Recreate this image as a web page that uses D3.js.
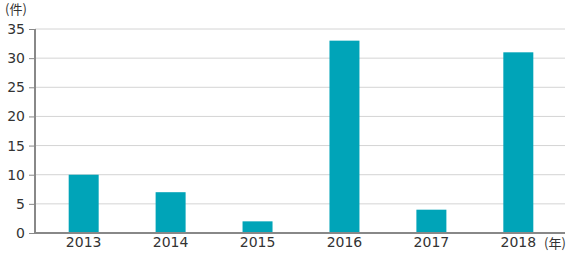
<!DOCTYPE html>
<html>
<head>
<meta charset="utf-8">
<script src="https://cdn.jsdelivr.net/npm/d3@7"></script>
<style>
  body { margin: 0; background: #fff; }
  text { font-family: "Noto Sans CJK JP", "DejaVu Sans", sans-serif; fill: #333; }
</style>
</head>
<body>
<script>
const years = ['2013', '2014', '2015', '2016', '2017', '2018'];
const counts = [10, 7, 2, 33, 4, 31];
const yTicks = [0, 5, 10, 15, 20, 25, 30, 35];

const width = 569, height = 256;
const plotLeft = 35, plotRight = 565, plotTop = 29, plotBottom = 233;

let svg = d3.select('body').append('svg')
  .attr('width', width)
  .attr('height', height);

let x = d3.scaleBand()
  .domain(years)
  .range([40, 562])
  .paddingInner(0.655)
  .paddingOuter(0.33);

let y = d3.scaleLinear()
  .domain([0, 35])
  .range([plotBottom, plotTop]);

// gridlines
svg.append('g')
  .selectAll('line')
  .data(yTicks.filter(d => d > 0))
  .join('line')
  .attr('x1', plotLeft)
  .attr('x2', plotRight)
  .attr('y1', d => y(d))
  .attr('y2', d => y(d))
  .attr('stroke', '#d4d4d4')
  .attr('stroke-width', 1);

// bars
svg.append('g')
  .selectAll('rect')
  .data(years)
  .join('rect')
  .attr('x', d => x(d))
  .attr('width', x.bandwidth())
  .attr('y', (d, i) => y(counts[i]))
  .attr('height', (d, i) => y(0) - y(counts[i]))
  .attr('fill', '#00a4b8');

// y axis
let yAxis = svg.append('g')
  .attr('transform', `translate(${plotLeft},0)`)
  .call(d3.axisLeft(y).tickValues(yTicks).tickSize(6).tickPadding(4));
yAxis.select('.domain').remove();
yAxis.selectAll('.tick line').attr('stroke', '#888');
yAxis.selectAll('.tick text')
  .attr('fill', '#333')
  .style('font-size', '14px')
  .style('font-family', '"DejaVu Sans", sans-serif');

svg.append('line')
  .attr('x1', plotLeft).attr('x2', plotLeft)
  .attr('y1', plotTop).attr('y2', plotBottom + 1)
  .attr('stroke', '#888').attr('stroke-width', 2);

// x axis baseline
svg.append('line')
  .attr('x1', plotLeft - 1).attr('x2', plotRight)
  .attr('y1', plotBottom).attr('y2', plotBottom)
  .attr('stroke', '#888').attr('stroke-width', 2);

let xAxis = svg.append('g')
  .attr('transform', `translate(0,${plotBottom})`)
  .call(d3.axisBottom(x).tickSize(0).tickPadding(4));
xAxis.select('.domain').remove();
xAxis.selectAll('.tick text')
  .attr('fill', '#333')
  .style('font-size', '14px')
  .style('font-family', '"DejaVu Sans", sans-serif');

// unit labels
svg.append('text')
  .attr('x', 5).attr('y', 14)
  .style('font-size', '13px')
  .text('(件)');

svg.append('text')
  .attr('x', 544).attr('y', 248)
  .style('font-size', '13px')
  .text('(年)');
</script>
</body>
</html>
